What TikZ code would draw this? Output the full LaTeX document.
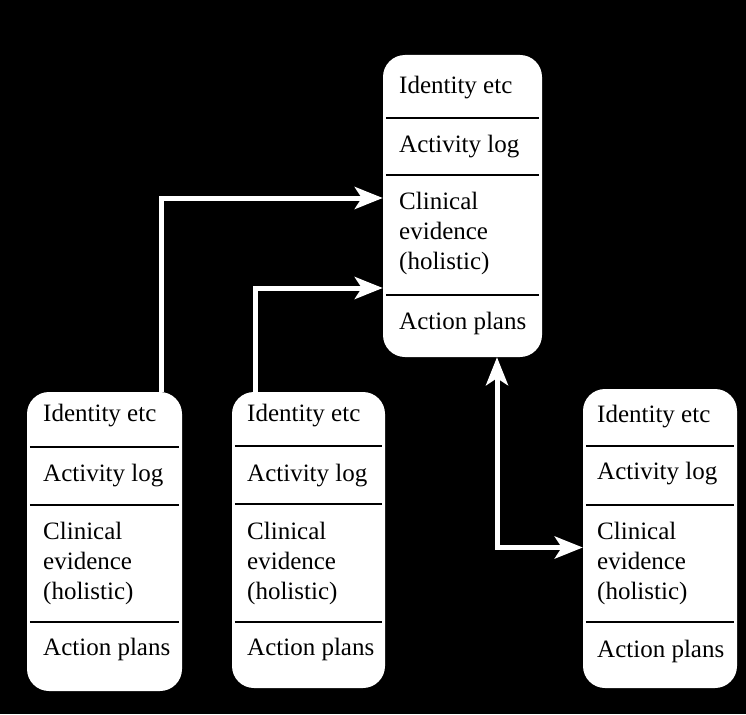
\documentclass[tikz,border=0pt]{standalone}
\usepackage{fontspec}
\setmainfont{Liberation Serif}
\usetikzlibrary{arrows.meta}
\begin{document}
\begin{tikzpicture}[x=1pt,y=-1pt,
  card/.style={fill=white,draw=none,rounded corners=22pt,inner sep=0pt},
  txt/.style={anchor=west,inner sep=0pt,align=left,font=\fontsize{25}{30}\selectfont},
  divider/.style={draw=black,line width=2pt,shorten <=3pt,shorten >=3pt},
  link/.style={draw=white,line width=5pt,
    -{Stealth[length=28pt,width=22pt,inset=7pt]}},
  dlink/.style={draw=white,line width=5pt,
    {Stealth[length=28pt,width=22pt,inset=7pt]}-{Stealth[length=28pt,width=22pt,inset=7pt]}}]
\fill[black] (0,0) rectangle (746,714);
\useasboundingbox (0,0) rectangle (746,714);
% boxes
\node[card,minimum width=159pt,minimum height=302pt] (T) at (462.5,206) {};
\node[card,minimum width=155pt,minimum height=299pt] (L) at (104.5,541.5) {};
\node[card,minimum width=153pt,minimum height=296pt] (M) at (308.5,540) {};
\node[card,minimum width=154pt,minimum height=299pt] (R) at (660,538.5) {};
% top box contents
\node[txt] (t1) at (399,88) {Identity etc};
\node[txt] (t2) at (399,147) {Activity log};
\node[txt] (t3) at (399,233) {Clinical\\evidence\\(holistic)};
\node[txt] (t4) at (399,323) {Action plans};
\draw[divider] (T.west |- 0,118) -- (T.east |- 0,118);
\draw[divider] (T.west |- 0,175) -- (T.east |- 0,175);
\draw[divider] (T.west |- 0,295) -- (T.east |- 0,295);
% left box contents
\node[txt] (l1) at (43,416) {Identity etc};
\node[txt] (l2) at (43,476) {Activity log};
\node[txt] (l3) at (43,563) {Clinical\\evidence\\(holistic)};
\node[txt] (l4) at (43,649) {Action plans};
\draw[divider] (L.west |- 0,447) -- (L.east |- 0,447);
\draw[divider] (L.west |- 0,505) -- (L.east |- 0,505);
\draw[divider] (L.west |- 0,622) -- (L.east |- 0,622);
% middle box contents
\node[txt] (m1) at (247,416) {Identity etc};
\node[txt] (m2) at (247,476) {Activity log};
\node[txt] (m3) at (247,563) {Clinical\\evidence\\(holistic)};
\node[txt] (m4) at (247,649) {Action plans};
\draw[divider] (M.west |- 0,446) -- (M.east |- 0,446);
\draw[divider] (M.west |- 0,504) -- (M.east |- 0,504);
\draw[divider] (M.west |- 0,622) -- (M.east |- 0,622);
% right box contents
\node[txt] (r1) at (597,417) {Identity etc};
\node[txt] (r2) at (597,474) {Activity log};
\node[txt] (r3) at (597,563) {Clinical\\evidence\\(holistic)};
\node[txt] (r4) at (597,651) {Action plans};
\draw[divider] (R.west |- 0,446) -- (R.east |- 0,446);
\draw[divider] (R.west |- 0,505) -- (R.east |- 0,505);
\draw[divider] (R.west |- 0,622) -- (R.east |- 0,622);
% connectors
\draw[link] ([xshift=56.5pt]L.north) |- ([yshift=8pt]T.west);
\draw[link] ([xshift=-53.5pt]M.north) |- ([yshift=-82pt]T.west);
\draw[dlink] ([xshift=34.5pt]T.south) |- ([yshift=-9pt]R.west);
\end{tikzpicture}
\end{document}
